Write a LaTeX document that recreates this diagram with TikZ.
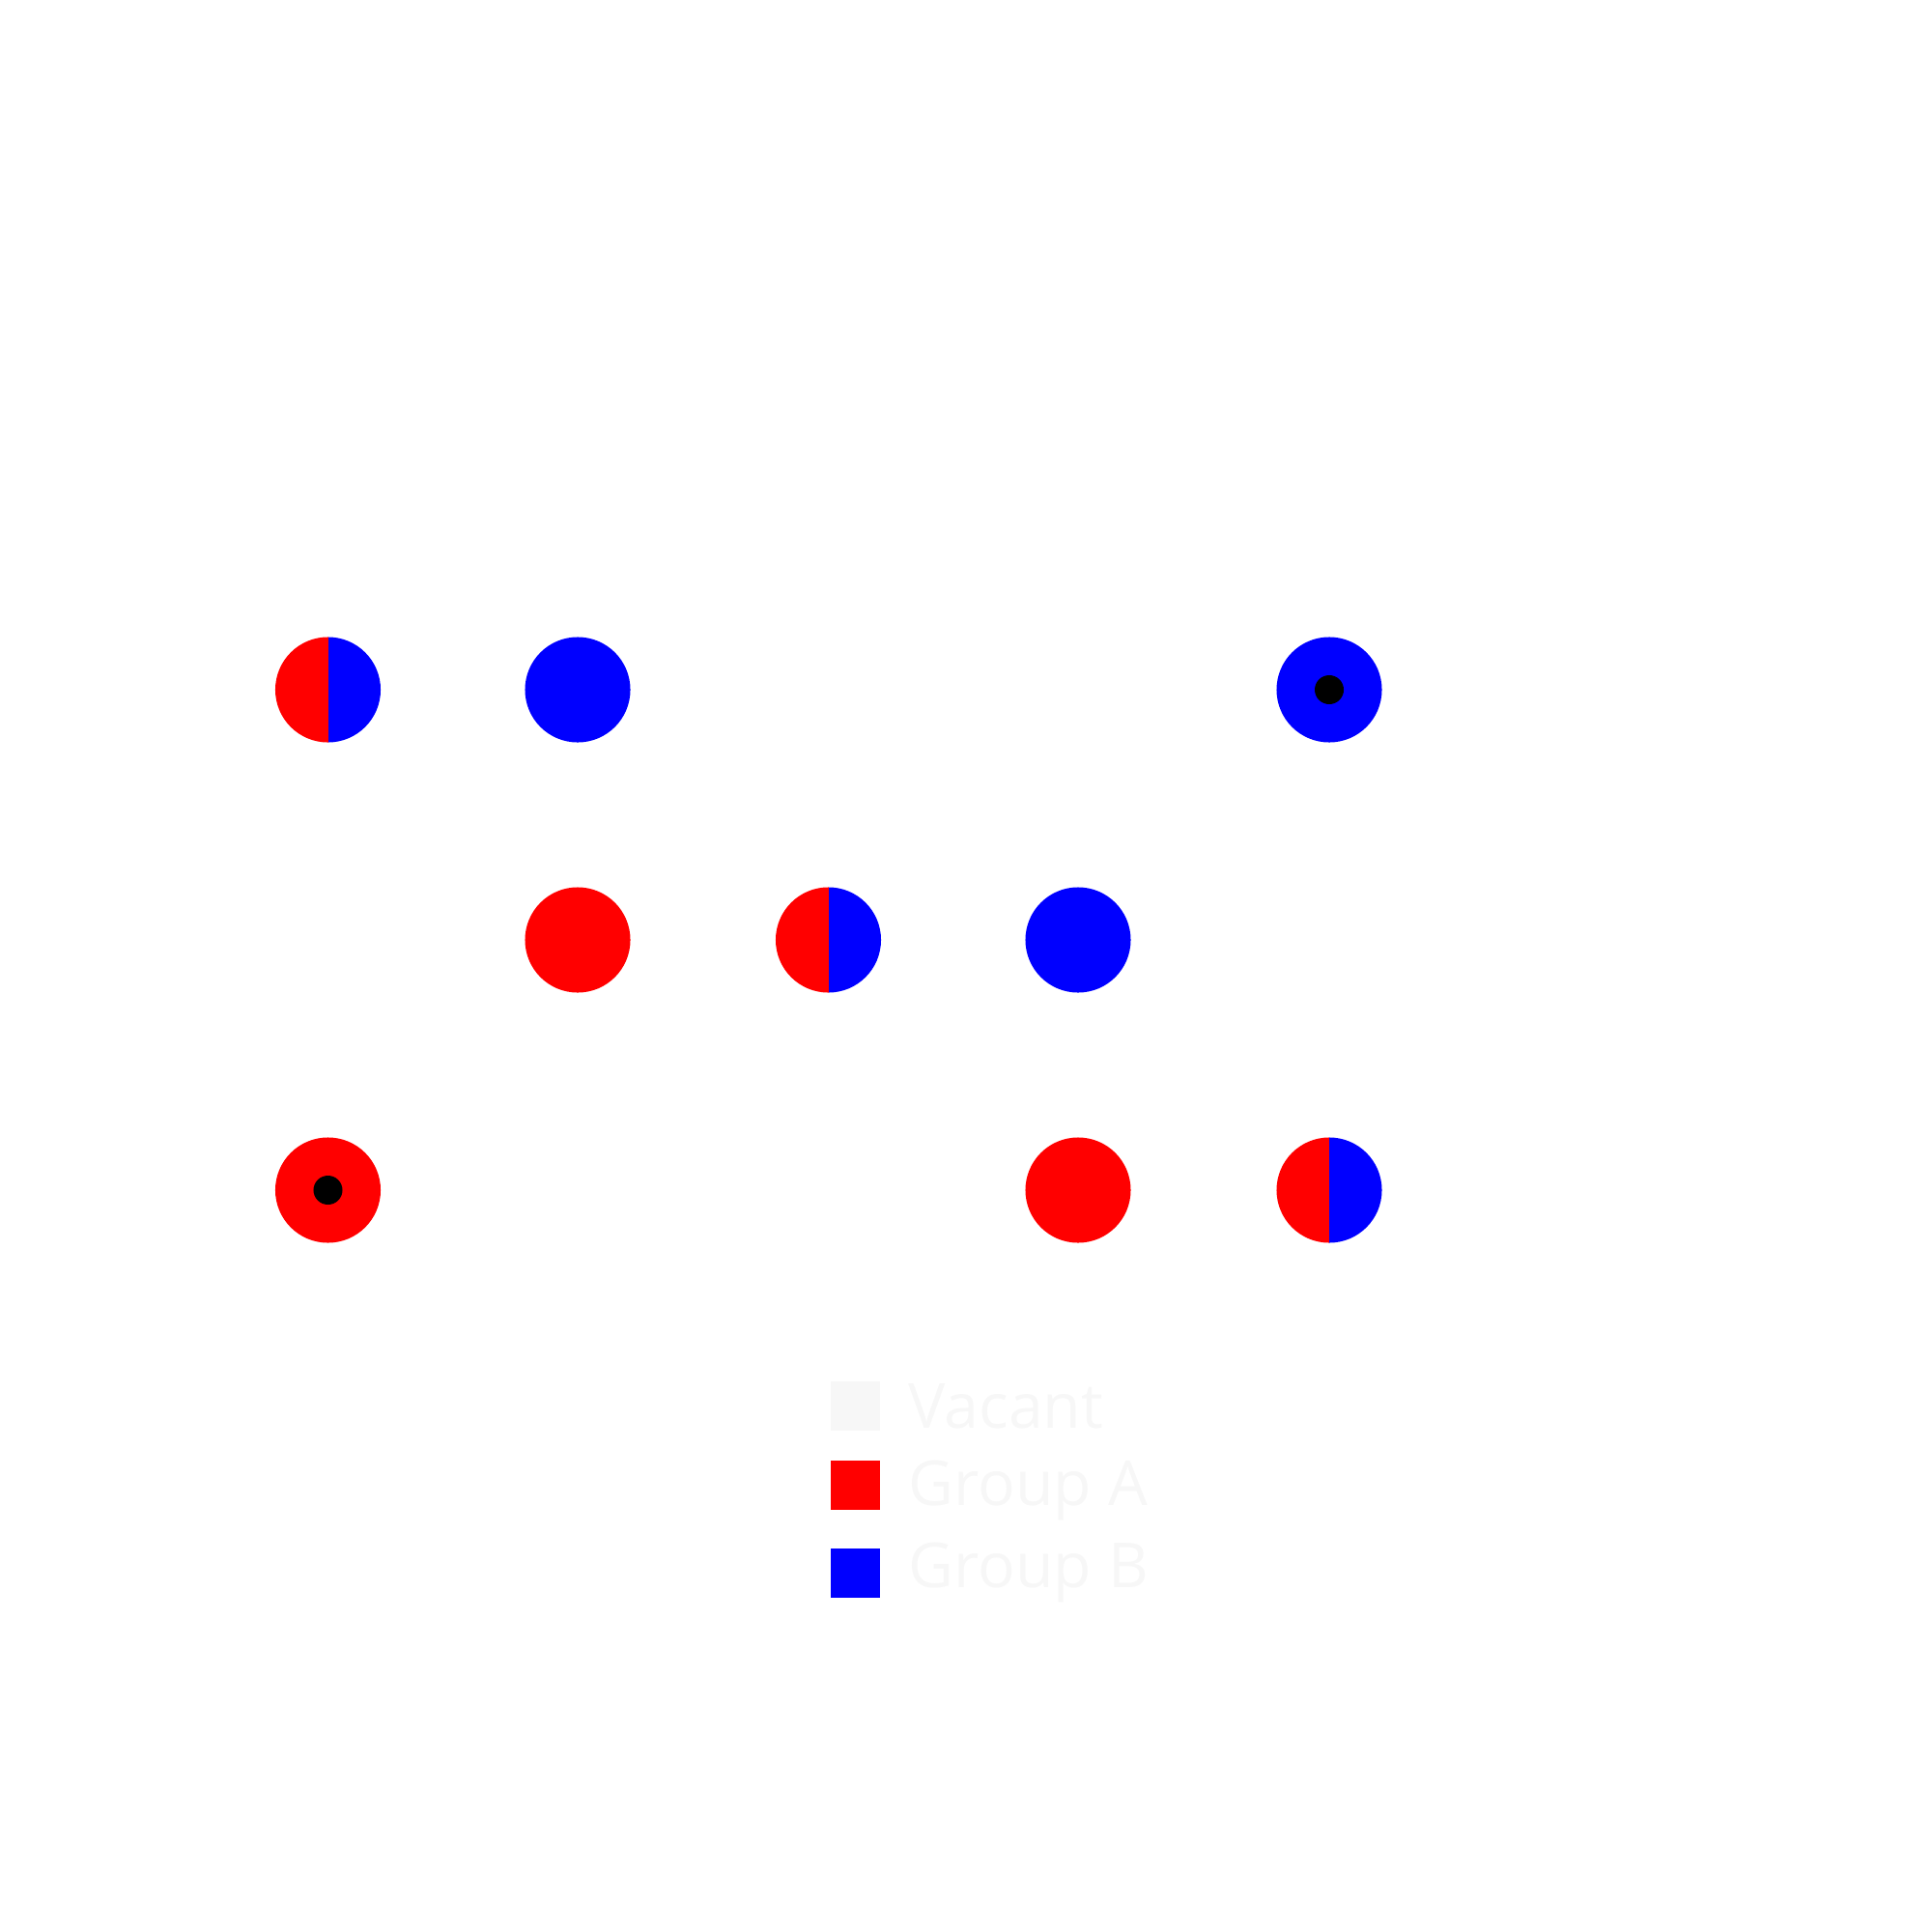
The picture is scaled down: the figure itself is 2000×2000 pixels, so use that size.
\documentclass[tikz,border=0pt]{standalone}
\usepackage{fontspec}
\setmainfont{Open Sans}
\usetikzlibrary{positioning}
\definecolor{vacant}{HTML}{F7F7F7}

\begin{document}
\begin{tikzpicture}[
    x=0.01cm, y=-0.01cm,
    site/.style={circle, minimum size=1.09cm, inner sep=0pt},
    grpA/.style={site, fill=red},
    grpB/.style={site, fill=blue},
    mixed/.style={site, path picture={
        \fill[red] ([xshift=-2pt]path picture bounding box.south west) rectangle (path picture bounding box.north);
        \fill[blue] (path picture bounding box.south) rectangle ([xshift=2pt]path picture bounding box.north east);}},
    core/.style={circle, fill=black, minimum size=0.3cm, inner sep=0pt},
    key/.style={minimum width=0.5cm, minimum height=0.51cm, inner sep=0pt},
    keytxt/.style={text=vacant, font=\fontsize{18.3}{22}\selectfont, inner sep=0pt, anchor=base west}
]
\useasboundingbox (0,0) rectangle (2000,2000);

% sites
\node[mixed] (s11) at (339.5,714) {};
\node[grpB]  (s12) at (598,714) {};
\node[grpB]  (s15) at (1376,714) {};
\node[grpA]  (s22) at (598,973) {};
\node[mixed] (s23) at (857.5,973) {};
\node[grpB]  (s24) at (1116,973) {};
\node[grpA]  (s31) at (339.5,1232) {};
\node[grpA]  (s34) at (1116,1232) {};
\node[mixed] (s35) at (1376,1232) {};

% occupied marks
\node[core] at (s15) {};
\node[core] at (s31) {};

% legend
\node[key, fill=vacant] (kvac) at (885.5,1455.5) {};
\node[key, fill=red]    (ka)   at (885.5,1537.5) {};
\node[key, fill=blue]   (kb)   at (885.5,1628.5) {};
\node[keytxt] at (940,1478) {Vacant};
\node[keytxt] at (940,1558) {Group A};
\node[keytxt] at (940,1643) {Group B};
\end{tikzpicture}
\end{document}
